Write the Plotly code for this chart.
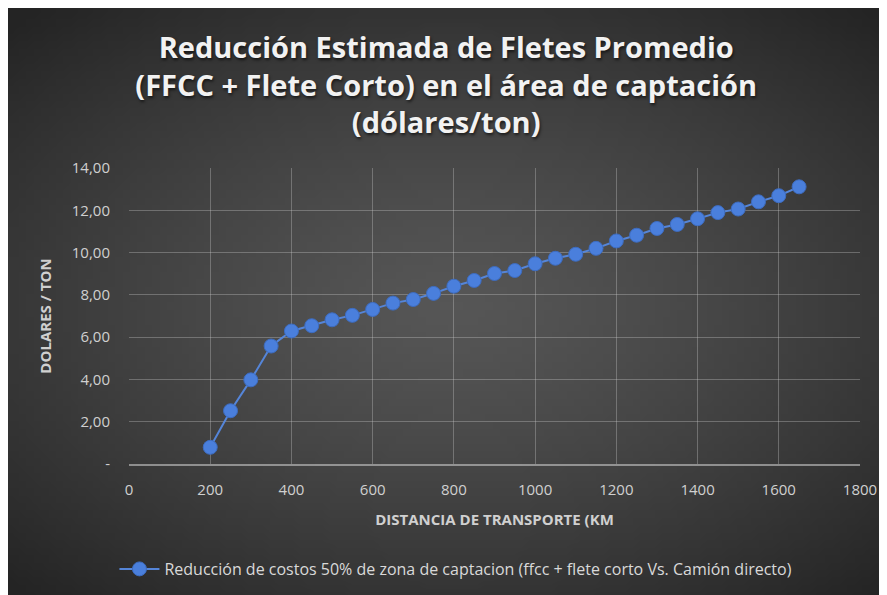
import base64, struct, zlib
import plotly.graph_objects as go

# ---------------- data ----------------
distancia_km = [200, 250, 300, 350, 400, 450, 500, 550, 600, 650, 700, 750, 800, 850, 900,
                950, 1000, 1050, 1100, 1150, 1200, 1250, 1300, 1350, 1400, 1450, 1500, 1550, 1600, 1650]
reduccion_usd_ton = [0.79, 2.52, 3.98, 5.58, 6.29, 6.54, 6.82, 7.03, 7.31, 7.61, 7.78, 8.07, 8.41, 8.68, 9.01,
                     9.15, 9.47, 9.73, 9.92, 10.20, 10.55, 10.82, 11.14, 11.33, 11.60, 11.89, 12.06, 12.40, 12.69, 13.11]
y_tickvals = [0, 2, 4, 6, 8, 10, 12, 14]
y_ticktext = ["-", "2,00", "4,00", "6,00", "8,00", "10,00", "12,00", "14,00"]
x_tickvals = [0, 200, 400, 600, 800, 1000, 1200, 1400, 1600, 1800]
serie_nombre = "Reducción de costos 50% de zona de captacion (ffcc + flete corto Vs. Camión directo)"
titulo = "Reducción Estimada de Fletes Promedio<br>(FFCC + Flete Corto) en el área de captación<br>(dólares/ton)"

# ---------------- background gradient (radial, Excel style) ----------------
def radial_png(w, h, cx, cy, c_center, c_edge, power):
    rows = []
    for j in range(h):
        row = bytearray([0])
        for i in range(w):
            dx = (i + 0.5) / w - cx
            dy = ((j + 0.5) / h - cy) * 1.1
            d = min(1.0, ((dx * dx + dy * dy) ** 0.5) / 0.72)
            v = int(round(c_center + (c_edge - c_center) * (d ** power)))
            row += bytes([v, v, v])
        rows.append(bytes(row))
    raw = b"".join(rows)
    def chunk(t, data):
        c = struct.pack(">I", len(data)) + t + data
        return c + struct.pack(">I", zlib.crc32(t + data) & 0xffffffff)
    png = b"\x89PNG\r\n\x1a\n" + chunk(b"IHDR", struct.pack(">IIBBBBB", w, h, 8, 2, 0, 0, 0))
    png += chunk(b"IDAT", zlib.compress(raw, 9)) + chunk(b"IEND", b"")
    return "data:image/png;base64," + base64.b64encode(png).decode()

W, H = 887, 595
ML, MR, MT, MB = 121, 35, 160, 139
PW, PH = W - ML - MR, H - MT - MB

bg = radial_png(120, 80, 0.5, 0.5, 0x56, 0x24, 1.3)

fig = go.Figure()
fig.add_trace(go.Scatter(
    x=distancia_km, y=reduccion_usd_ton, mode="lines+markers", name=serie_nombre,
    line=dict(color="#5585d8", width=2),
    marker=dict(color="#4a7fdc", size=14, line=dict(color="#3d6cc0", width=1)),
))

fig.update_layout(
    width=W, height=H,
    margin=dict(l=ML, r=MR, t=MT, b=MB),
    paper_bgcolor="#333333", plot_bgcolor="rgba(0,0,0,0)",
    images=[dict(source=bg, xref="paper", yref="paper", x=-ML / PW, y=1 + MT / PH,
                 sizex=W / PW, sizey=H / PH, xanchor="left", yanchor="top",
                 sizing="stretch", layer="below")],
    title=dict(text=titulo, x=0.494, xanchor="center", xref="container", y=1 - 50 / H, yanchor="middle",
               font=dict(family="Open Sans", size=29, color="#f2f2f2", weight="bold",
                         shadow="1px 2px 3px rgba(0,0,0,0.6)")),
    showlegend=True,
    legend=dict(orientation="h", xref="container", yref="container", x=0.505, xanchor="center",
                y=1 - 561 / H, yanchor="middle", itemwidth=40,
                font=dict(family="Open Sans", size=16, color="#d9d9d9"),
                bgcolor="rgba(0,0,0,0)"),
    font=dict(family="Open Sans"),
)

fig.update_xaxes(range=[0, 1800], tickvals=x_tickvals, showgrid=True, gridcolor="rgba(200,200,200,0.35)",
                 gridwidth=1, zeroline=False, showline=True, linecolor="rgba(200,200,200,0.6)", linewidth=2,
                 ticks="", ticklabelstandoff=11, tickfont=dict(family="Open Sans", size=15, color="#d0d0d0"),
                 title=dict(text="DISTANCIA DE TRANSPORTE (KM", standoff=16,
                            font=dict(family="Open Sans", size=15, color="#d0d0d0", weight="bold")),
                 mirror=False, fixedrange=True)
fig.update_yaxes(range=[0, 14], tickvals=y_tickvals, ticktext=y_ticktext, showgrid=True,
                 gridcolor="rgba(200,200,200,0.35)", gridwidth=1, zeroline=False, showline=False,
                 ticks="", ticklabelstandoff=18, tickfont=dict(family="Open Sans", size=15, color="#d0d0d0"),
                 title=dict(text="DOLARES / TON", standoff=16,
                            font=dict(family="Open Sans", size=15, color="#d0d0d0", weight="bold")),
                 fixedrange=True)

fig.write_html("out.html")
